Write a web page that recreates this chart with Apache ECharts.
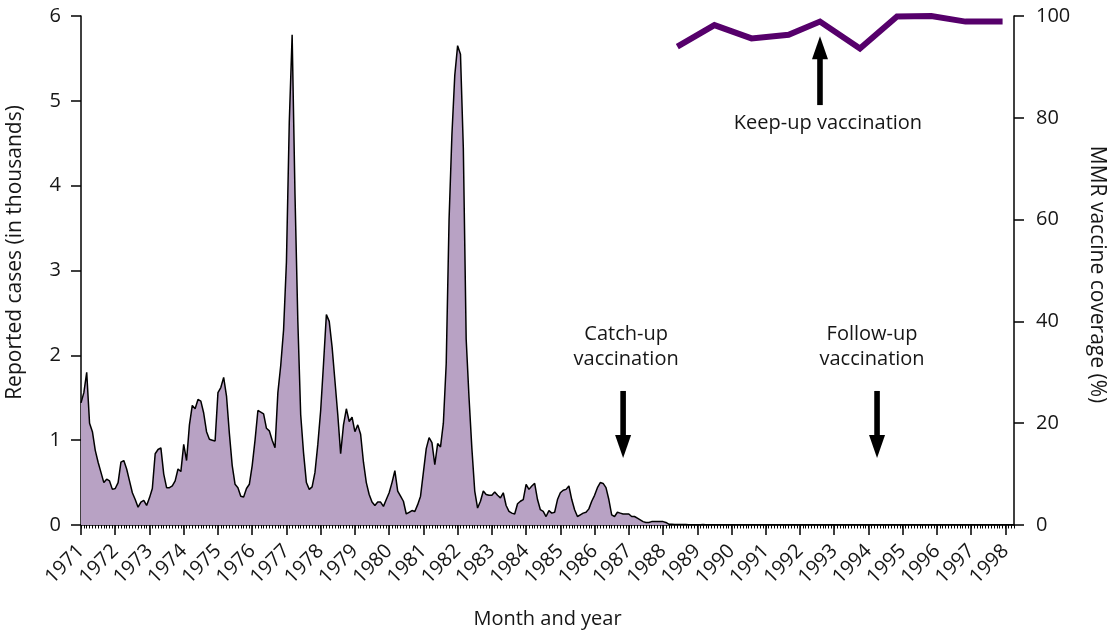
<!DOCTYPE html>
<html><head><meta charset="utf-8">
<script src="https://cdn.jsdelivr.net/npm/echarts@6/dist/echarts.min.js"></script>
<style>html,body{margin:0;padding:0;background:#fff}#c{width:1118px;height:634px}</style>
</head><body><div id="c"></div>
<script>
// ---- data ----
const years = [1971,1972,1973,1974,1975,1976,1977,1978,1979,1980,1981,1982,1983,1984,1985,1986,1987,1988,1989,1990,1991,1992,1993,1994,1995,1996,1997,1998];
// Reported cases (thousands), monthly
const cases1971 = [1.44,1.56,1.80,1.20,1.10,0.88,0.74,0.62,0.50,0.54,0.52,0.42];
const cases1972 = [0.43,0.50,0.74,0.76,0.66,0.52,0.38,0.30,0.21,0.27,0.29,0.23];
const cases1973 = [0.32,0.43,0.84,0.89,0.91,0.60,0.44,0.44,0.46,0.52,0.66,0.63];
const cases1974 = [0.95,0.76,1.18,1.41,1.37,1.48,1.46,1.32,1.10,1.01,1.00,0.99];
const cases1975 = [1.56,1.62,1.74,1.52,1.08,0.70,0.48,0.44,0.34,0.33,0.43,0.48];
const cases1976 = [0.70,1.00,1.35,1.33,1.31,1.14,1.11,1.00,0.91,1.56,1.88,2.30];
const cases1977 = [3.10,4.75,5.78,3.90,2.40,1.30,0.85,0.50,0.42,0.45,0.62,0.95];
const cases1978 = [1.35,1.90,2.48,2.40,2.10,1.70,1.30,0.84,1.18,1.37,1.22,1.27];
const cases1979 = [1.10,1.18,1.07,0.74,0.50,0.36,0.27,0.23,0.27,0.27,0.22,0.30];
const cases1980 = [0.38,0.50,0.64,0.40,0.34,0.28,0.13,0.15,0.17,0.16,0.24,0.34];
const cases1981 = [0.62,0.90,1.03,0.97,0.71,0.96,0.92,1.20,1.90,3.60,4.60,5.30];
const cases1982 = [5.65,5.55,4.44,2.19,1.50,0.90,0.40,0.20,0.28,0.40,0.36,0.35];
const cases1983 = [0.35,0.39,0.35,0.32,0.38,0.23,0.16,0.14,0.13,0.25,0.28,0.30];
const cases1984 = [0.48,0.42,0.46,0.49,0.30,0.18,0.16,0.10,0.17,0.14,0.15,0.30];
const cases1985 = [0.38,0.41,0.42,0.46,0.30,0.18,0.10,0.12,0.14,0.15,0.19,0.28];
const cases1986 = [0.35,0.44,0.50,0.49,0.44,0.30,0.12,0.10,0.15,0.14,0.13,0.13];
const cases1987 = [0.13,0.10,0.10,0.08,0.06,0.04,0.03,0.03,0.04,0.04,0.04,0.04];
const cases1988 = [0.04,0.03,0.01,0.01,0.005,0.005,0.005,0.005,0.005,0.003,0.003,0.003];
const cases1989 = [0.003,0.003,0.005,0.003,0.003,0.002,0.002,0.002,0.003,0.002,0.002,0.002];
const cases1990 = [0.002,0.002,0.003,0.002,0.002,0.002,0.002,0.002,0.002,0.002,0.002,0.002];
const cases1991 = [0.002,0.003,0.002,0.002,0.002,0.002,0.002,0.002,0.002,0.002,0.002,0.002];
const cases1992 = [0.002,0.002,0.002,0.002,0.002,0.002,0.002,0.002,0.002,0.002,0.002,0.002];
const cases1993 = [0.002,0.002,0.002,0.002,0.002,0.002,0.002,0.002,0.002,0.002,0.002,0.002];
const cases1994 = [0.002,0.002,0.002,0.002,0.002,0.002,0.002,0.002,0.002,0.002,0.002,0.002];
const cases1995 = [0.002,0.002,0.002,0.002,0.002,0.002,0.002,0.002,0.002,0.002,0.002,0.002];
const cases1996 = [0.002,0.002,0.002,0.002,0.002,0.002,0.002,0.002,0.002,0.002,0.002,0.002];
const cases1997 = [0.002,0.002,0.002,0.002,0.002,0.002,0.002,0.002,0.002,0.002,0.002,0.002];
const cases1998 = [0.002,0.002,0.002,0.002];
const casesByYear = [cases1971,cases1972,cases1973,cases1974,cases1975,cases1976,cases1977,cases1978,cases1979,cases1980,cases1981,cases1982,cases1983,cases1984,cases1985,cases1986,cases1987,cases1988,cases1989,cases1990,cases1991,cases1992,cases1993,cases1994,cases1995,cases1996,cases1997,cases1998];

// MMR vaccine coverage (%)
const mmrMonths = ['1988-06','1989-07','1990-08','1991-09','1992-08','1993-10','1994-11','1995-11','1996-11','1997-12'];
const mmrValues = [94.0,98.2,95.6,96.3,98.9,93.6,99.9,100.0,98.9,98.9];

// Annotations (data positions)
const annotations = [
  {text:'Catch-up\nvaccination', month:'1986-11', axis:0, from:1.58, to:0.79, dir:'down', dx:3},
  {text:'Follow-up\nvaccination', month:'1994-04', axis:0, from:1.58, to:0.79, dir:'down', dx:-5},
  {text:'Keep-up vaccination', month:'1992-08', axis:1, from:82.5, to:96.0, dir:'up', dx:8}
];

// ---- build ----
const months = [], cases = [];
years.forEach((y,i)=>{
  casesByYear[i].forEach((v,j)=>{
    months.push(y+'-'+String(j+1).padStart(2,'0'));
    cases.push(v);
  });
});

const FONT = '"Open Sans", Lato, sans-serif';
const TXT = '#161616';
const chart = echarts.init(document.getElementById('c'), null, {renderer:'canvas'});
const axisLineStyle = {color:'#000', width:1.5};
chart.setOption({
  animation:false,
  backgroundColor:'#fff',
  grid:{left:81, right:104, top:16, bottom:109, containLabel:false, outerBoundsMode:'none'},
  xAxis:[{
    type:'category', data:months, boundaryGap:false,
    axisLine:{lineStyle:axisLineStyle},
    axisTick:{show:true, interval:0, length:3.5, lineStyle:{color:'#000', width:1}},
    axisLabel:{interval:(i)=> i%12===0, formatter:(v)=>v.slice(0,4), rotate:45,
      fontFamily:FONT, fontSize:20, color:TXT, margin:23},
    name:'Month and year', nameLocation:'middle', nameGap:84,
    nameTextStyle:{fontFamily:FONT, fontSize:20, color:TXT},
    splitLine:{show:false}
  },{
    type:'category', data:months, boundaryGap:false, position:'bottom', gridIndex:0,
    axisLine:{show:false},
    axisTick:{show:true, interval:(i)=> i%12===0, length:10, lineStyle:{color:'#000', width:1.5}},
    axisLabel:{show:false}, splitLine:{show:false}
  }],
  yAxis:[{
    type:'value', min:0, max:6, interval:1, position:'left',
    axisLine:{show:true, lineStyle:axisLineStyle},
    axisTick:{show:true, length:10, lineStyle:{color:'#000', width:1.5}},
    axisLabel:{fontFamily:FONT, fontSize:20, color:TXT, margin:20},
    splitLine:{show:false},
    name:'Reported cases (in thousands)', nameLocation:'middle', nameGap:55, nameRotate:90,
    nameTextStyle:{fontFamily:FONT, fontSize:21, color:TXT, padding:[0,0,0,36]}
  },{
    type:'value', min:0, max:100, interval:20, position:'right',
    axisLine:{show:true, lineStyle:axisLineStyle},
    axisTick:{show:true, length:10, lineStyle:{color:'#000', width:1.5}},
    axisLabel:{fontFamily:FONT, fontSize:20, color:TXT, margin:22},
    splitLine:{show:false},
    name:'MMR vaccine coverage (%)', nameLocation:'middle', nameGap:72, nameRotate:-90,
    nameTextStyle:{fontFamily:FONT, fontSize:21, color:TXT, padding:[0,0,0,8]}
  }],
  series:[{
    type:'line', name:'Reported cases', data:cases, xAxisIndex:0, yAxisIndex:0,
    showSymbol:false, symbol:'none', sampling:null, smooth:false,
    lineStyle:{color:'#000', width:1.5},
    areaStyle:{color:'#b8a2c4', opacity:1},
    z:2
  },{
    type:'line', name:'MMR coverage', xAxisIndex:0, yAxisIndex:1,
    data:mmrMonths.map((m,i)=>[m, mmrValues[i]]),
    showSymbol:false, symbol:'none', smooth:false,
    lineStyle:{color:'#56006b', width:6, join:'miter'},
    z:3
  }]
});

// ---- annotations ----
const graphics = [];
annotations.forEach(a=>{
  const xi = months.indexOf(a.month);
  const finder = a.axis===0 ? {xAxisIndex:0, yAxisIndex:0} : {xAxisIndex:0, yAxisIndex:1};
  const p0 = chart.convertToPixel(finder, [xi, a.from]);
  const p1 = chart.convertToPixel(finder, [xi, a.to]);
  const x = p0[0];
  const headH = 23, headW = 8, shaftW = 2.8;
  if (a.dir==='down') {
    graphics.push({type:'rect', shape:{x:x-shaftW, y:p0[1], width:shaftW*2, height:(p1[1]-headH)-p0[1]+1}, style:{fill:'#000'}});
    graphics.push({type:'polygon', shape:{points:[[x-headW,p1[1]-headH],[x+headW,p1[1]-headH],[x,p1[1]]]}, style:{fill:'#000'}});
    graphics.push({type:'text', x:x+a.dx, y:p0[1]-19, style:{text:a.text, font:'20px '+FONT, fill:TXT, align:'center', verticalAlign:'bottom', lineHeight:25}});
  } else {
    graphics.push({type:'rect', shape:{x:x-shaftW, y:p1[1]+headH-1, width:shaftW*2, height:p0[1]-(p1[1]+headH-1)}, style:{fill:'#000'}});
    graphics.push({type:'polygon', shape:{points:[[x-headW,p1[1]+headH],[x+headW,p1[1]+headH],[x,p1[1]]]}, style:{fill:'#000'}});
    graphics.push({type:'text', x:x+a.dx, y:p0[1]+8, style:{text:a.text, font:'20px '+FONT, fill:TXT, align:'center', verticalAlign:'top'}});
  }
});
chart.setOption({graphic:graphics});
</script>
</body></html>
